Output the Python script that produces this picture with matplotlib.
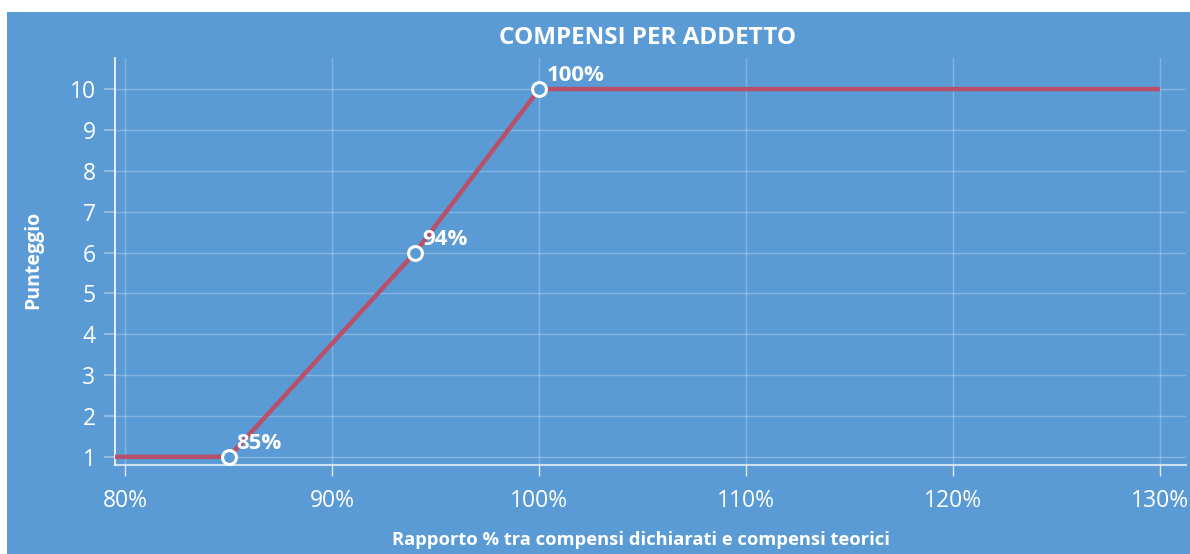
import matplotlib.pyplot as plt
from matplotlib.patches import Rectangle

plt.rcParams['font.family'] = ['Open Sans', 'DejaVu Sans']

bg = '#5a9bd5'
line_red = '#b8506a'

# punteggio curve
rapporto = [79.5, 85, 94, 100, 130]
punteggio = [1, 1, 6, 10, 10]
marked_x = [85, 94, 100]
marked_y = [1, 6, 10]
marked_labels = ['85%', '94%', '100%']
x_ticks = [80, 90, 100, 110, 120, 130]
y_ticks = [1, 2, 3, 4, 5, 6, 7, 8, 9, 10]

fig = plt.figure(figsize=(11.9, 5.54), dpi=100, facecolor='white')
fig.patches.append(Rectangle((7 / 1190, 0), 1, 1 - 12 / 554, transform=fig.transFigure,
                             facecolor=bg, edgecolor='none', zorder=-10))

ax = fig.add_axes([115 / 1190, (554 - 465) / 554, (1186 - 115) / 1190, (465 - 58) / 554])
ax.set_facecolor(bg)

ax.plot(rapporto, punteggio, color=line_red, linewidth=3.2, zorder=3, solid_capstyle='butt')
ax.plot(marked_x, marked_y, 'o', markersize=10, markerfacecolor=bg,
        markeredgecolor='white', markeredgewidth=2.2, zorder=4)
for x, y, lab in zip(marked_x, marked_y, marked_labels):
    ax.annotate(lab, (x, y), xytext=(5, 2), textcoords='offset points',
                color='white', fontsize=16, fontweight='bold', ha='left', va='bottom', zorder=5)

ax.set_xlim(79.5, 131.25)
ax.set_ylim(0.8, 10.76)
ax.set_xticks(x_ticks)
ax.set_xticklabels([f'{t}%' for t in x_ticks])
ax.set_yticks(y_ticks)

ax.grid(True, color='white', alpha=0.25, linewidth=1)
ax.set_axisbelow(True)

for s in ['top', 'right']:
    ax.spines[s].set_visible(False)
ax.spines['left'].set_color('white')
ax.spines['bottom'].set_color((1, 1, 1, 0.7))
ax.spines['left'].set_linewidth(1.2)
ax.spines['bottom'].set_linewidth(1.5)

ax.tick_params(axis='x', colors=(1, 1, 1, 0.8), labelcolor='white', length=8, width=1,
               labelsize=16.5, pad=9)
ax.tick_params(axis='y', colors=(1, 1, 1, 0.4), labelcolor='white', length=8, width=1.2,
               labelsize=16.5, pad=6)

fig.text(648 / 1190, 1 - 38 / 554, 'COMPENSI PER ADDETTO', color='white', fontsize=17.5,
         fontweight='bold', ha='center', va='center')
fig.text(33 / 1190, 1 - 260 / 554, 'Punteggio', color='white', fontsize=14,
         fontweight='bold', rotation=90, ha='center', va='center')
fig.text(641 / 1190, 1 - 540 / 554, 'Rapporto % tra compensi dichiarati e compensi teorici',
         color='white', fontsize=13.2, fontweight='bold', ha='center', va='center')

fig.savefig('out.png', dpi=100, facecolor='white')
